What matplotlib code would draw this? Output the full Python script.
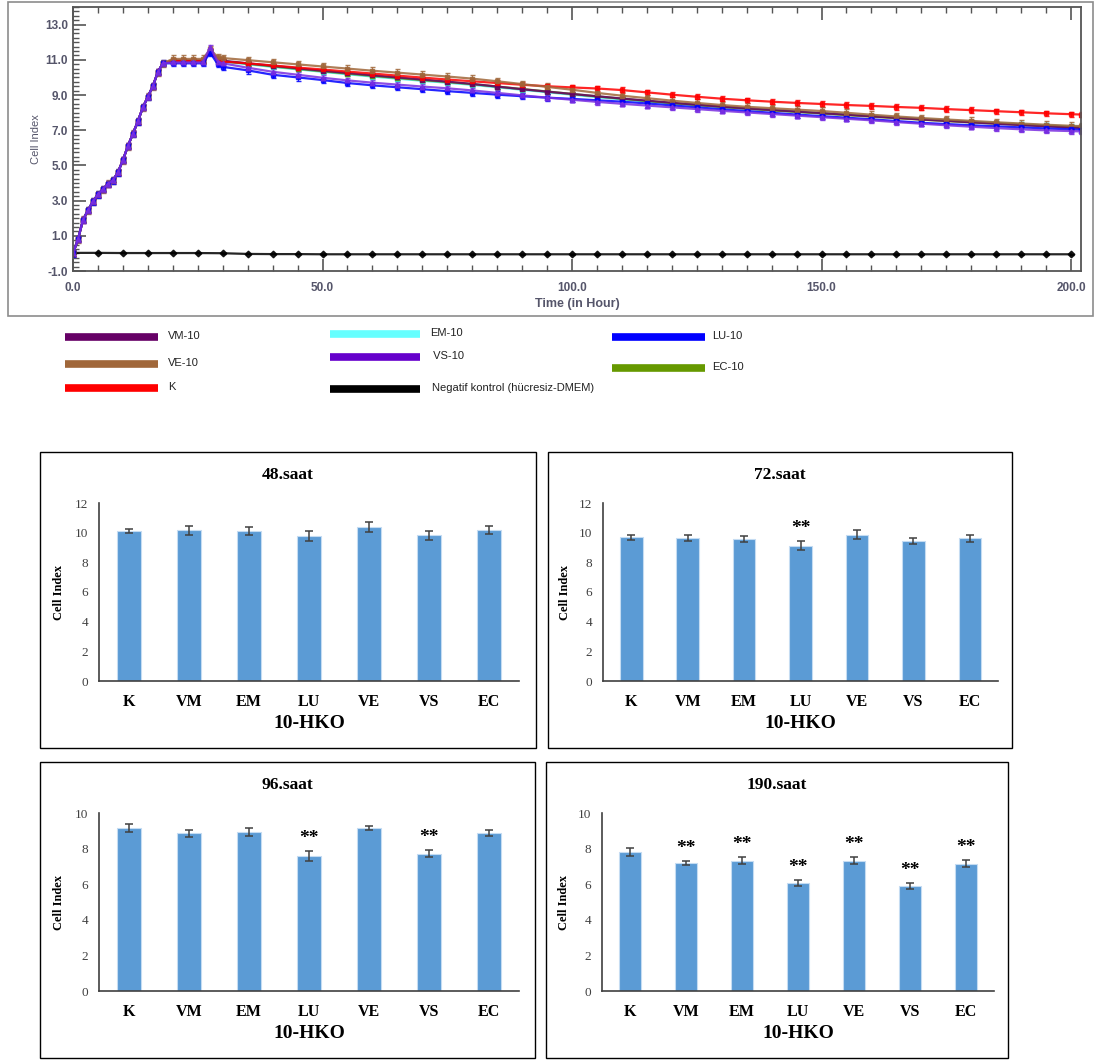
import numpy as np
import matplotlib.pyplot as plt
from matplotlib.lines import Line2D
from matplotlib.patches import Rectangle
from matplotlib.ticker import MultipleLocator, FormatStrFormatter

W, H = 1101, 1060

# ---- real-time cell index (top panel) ----
growth_hours = [0, 1, 2, 3, 4, 5, 6, 7, 8, 9, 10, 11, 12, 13, 14, 15, 16, 17, 18]
growth_ci = [0.0, 0.8, 1.9, 2.45, 2.95, 3.35, 3.65, 3.95, 4.15, 4.6, 5.3, 6.1,
             6.8, 7.5, 8.3, 8.9, 9.5, 10.3, 10.8]
late_hours = [20, 22, 24, 26, 27.5, 29] + list(range(30, 201, 5)) + [202]

ci_vm = [10.95, 10.95, 10.95, 10.95, 11.5, 11.0,
         10.95, 10.80, 10.66, 10.52, 10.38, 10.25, 10.12, 10.00, 9.88, 9.76,
         9.63, 9.48, 9.33, 9.19, 9.06, 8.93, 8.80, 8.68, 8.56, 8.45,
         8.34, 8.24, 8.15, 8.06, 7.97, 7.88, 7.79, 7.70, 7.61, 7.53,
         7.45, 7.37, 7.29, 7.22, 7.15, 7.13]
ci_ve = [11.05, 11.05, 11.05, 11.05, 11.6, 11.15,
         11.10, 10.98, 10.86, 10.74, 10.62, 10.50, 10.38, 10.27, 10.16, 10.05,
         9.93, 9.78, 9.62, 9.46, 9.30, 9.12, 8.96, 8.82, 8.68, 8.55,
         8.43, 8.33, 8.25, 8.17, 8.09, 7.99, 7.88, 7.78, 7.69, 7.61,
         7.53, 7.45, 7.38, 7.31, 7.25, 7.23]
ci_k = [10.95, 10.95, 10.95, 10.95, 11.5, 11.0,
        10.90, 10.80, 10.68, 10.56, 10.45, 10.33, 10.22, 10.10, 9.99, 9.88,
        9.78, 9.68, 9.58, 9.50, 9.43, 9.37, 9.28, 9.15, 9.02, 8.90,
        8.79, 8.70, 8.62, 8.55, 8.49, 8.43, 8.38, 8.32, 8.27, 8.20,
        8.14, 8.08, 8.02, 7.96, 7.91, 7.89]
ci_em = [10.9, 10.9, 10.9, 10.9, 11.5, 10.95,
         10.90, 10.75, 10.60, 10.46, 10.32, 10.18, 10.05, 9.93, 9.81, 9.70,
         9.58, 9.44, 9.30, 9.16, 9.02, 8.88, 8.75, 8.63, 8.52, 8.42,
         8.32, 8.23, 8.14, 8.05, 7.96, 7.88, 7.80, 7.72, 7.64, 7.56,
         7.48, 7.41, 7.34, 7.27, 7.21, 7.19]
ci_vs = [10.85, 10.85, 10.85, 10.85, 11.7, 10.9,
         10.80, 10.55, 10.32, 10.15, 9.98, 9.83, 9.70, 9.59, 9.48, 9.38,
         9.26, 9.12, 8.98, 8.85, 8.73, 8.61, 8.50, 8.40, 8.30, 8.20,
         8.10, 8.01, 7.92, 7.83, 7.74, 7.65, 7.56, 7.46, 7.37, 7.28,
         7.20, 7.12, 7.05, 6.99, 6.95, 6.93]
ci_lu = [10.8, 10.8, 10.8, 10.8, 11.4, 10.75,
         10.60, 10.40, 10.15, 10.00, 9.85, 9.68, 9.55, 9.44, 9.33, 9.22,
         9.12, 9.02, 8.93, 8.85, 8.78, 8.70, 8.62, 8.52, 8.41, 8.30,
         8.19, 8.09, 7.99, 7.89, 7.80, 7.71, 7.62, 7.52, 7.42, 7.35,
         7.28, 7.22, 7.16, 7.10, 7.05, 7.03]
ci_ec = [10.9, 10.9, 10.9, 10.9, 11.5, 10.95,
         10.92, 10.78, 10.63, 10.49, 10.35, 10.22, 10.09, 9.97, 9.85, 9.74,
         9.62, 9.48, 9.34, 9.20, 9.06, 8.92, 8.79, 8.66, 8.54, 8.43,
         8.32, 8.22, 8.13, 8.04, 7.95, 7.86, 7.77, 7.68, 7.60, 7.52,
         7.44, 7.37, 7.30, 7.23, 7.17, 7.15]
neg_hours = list(range(0, 201, 5))
ci_neg = [0.03, 0.03, 0.02, 0.02, 0.02, 0.02, 0.01, -0.03, -0.04, -0.04,
          -0.05, -0.05, -0.05, -0.05, -0.05, -0.05, -0.05, -0.05, -0.05, -0.05,
          -0.05, -0.05, -0.05, -0.05, -0.05, -0.05, -0.05, -0.05, -0.05, -0.05,
          -0.05, -0.05, -0.05, -0.05, -0.05, -0.05, -0.05, -0.05, -0.05, -0.05,
          -0.05]

# ---- end-point bar charts ----
groups = ['K', 'VM', 'EM', 'LU', 'VE', 'VS', 'EC']
ci_48h = [10.11, 10.16, 10.11, 9.75, 10.40, 9.82, 10.18]
sd_48h = [0.15, 0.30, 0.27, 0.34, 0.34, 0.29, 0.26]
sig_48h = [0, 0, 0, 0, 0, 0, 0]
ci_72h = [9.69, 9.64, 9.60, 9.12, 9.87, 9.44, 9.62]
sd_72h = [0.16, 0.21, 0.20, 0.29, 0.28, 0.20, 0.25]
sig_72h = [0, 0, 0, 1, 0, 0, 0]
ci_96h = [9.16, 8.86, 8.91, 7.60, 9.16, 7.72, 8.86]
sd_96h = [0.22, 0.19, 0.22, 0.28, 0.11, 0.20, 0.18]
sig_96h = [0, 0, 0, 1, 0, 1, 0]
ci_190h = [7.79, 7.19, 7.32, 6.05, 7.32, 5.90, 7.15]
sd_190h = [0.22, 0.13, 0.20, 0.17, 0.20, 0.16, 0.19]
sig_190h = [0, 1, 1, 1, 1, 1, 1]


def px_box(x0, y0, x1, y1):
    return [x0 / W, 1 - y1 / H, (x1 - x0) / W, (y1 - y0) / H]


def frame(fig, x0, y0, x1, y1, color, lw):
    fig.add_artist(Rectangle((x0 / W, 1 - y1 / H), (x1 - x0) / W, (y1 - y0) / H,
                             transform=fig.transFigure, fill=False,
                             edgecolor=color, lw=lw))


fig = plt.figure(figsize=(W / 100, H / 100), dpi=100)
fig.patch.set_facecolor('white')

# ================= top panel =================
frame(fig, 8, 2, 1093, 316, '#8c8c8c', 1.2)
ax = fig.add_axes(px_box(73, 7, 1081, 271))

series = [
    ('NEG', neg_hours, ci_neg, '#000000', 'D', 0.02),
    ('EM-10', None, ci_em, '#33e6e6', 's', 0.12),
    ('EC-10', None, ci_ec, '#669900', 's', 0.12),
    ('VM-10', None, ci_vm, '#660066', 's', 0.12),
    ('K', None, ci_k, '#ff0000', 's', 0.15),
    ('VE-10', None, ci_ve, '#a0673a', 's', 0.2),
    ('LU-10', None, ci_lu, '#0000ff', 's', 0.18),
    ('VS-10', None, ci_vs, '#7a2ee0', '^', 0.15),
]
for name, hrs, vals, col, mk, sd in series:
    if hrs is None:
        x = growth_hours + late_hours
        y = growth_ci + vals
    else:
        x, y = hrs, vals
    ax.errorbar(x, y, yerr=sd, fmt='-' + mk, color=col, ms=3.4, lw=1.6,
                ecolor=col, elinewidth=0.9, capsize=1.8, alpha=0.85)

ax.set_xlim(0, 202)
ax.set_ylim(-1, 14)
ax.xaxis.set_major_locator(MultipleLocator(50))
ax.xaxis.set_minor_locator(MultipleLocator(5))
ax.yaxis.set_minor_locator(MultipleLocator(0.25))
ax.set_yticks(np.arange(-1, 14, 2))
ax.xaxis.set_major_formatter(FormatStrFormatter('%.1f'))
ax.yaxis.set_major_formatter(FormatStrFormatter('%.1f'))
ax.tick_params(axis='both', which='major', direction='in', length=9, width=1.2,
               color='#555555', labelsize=8.5, labelcolor='#55556a', top=True, right=False)
ax.tick_params(axis='both', which='minor', direction='in', length=4, width=1,
               color='#555555', top=True, right=False)
ax.tick_params(axis='x', which='major', pad=8)
for lab in ax.get_xticklabels() + ax.get_yticklabels():
    lab.set_fontweight('bold')
    lab.set_family('Liberation Sans')
for sp in ax.spines.values():
    sp.set_color('#555555')
    sp.set_linewidth(1.3)
ax.set_xlabel('Time (in Hour)', fontsize=9, fontweight='bold', color='#55556a',
              family='Liberation Sans', labelpad=3)
ax.set_ylabel('Cell Index', fontsize=8, color='#55556a', family='Liberation Sans',
              labelpad=3)

# legend below the top panel
legend_items = [
    ('VM-10', '#660066', 65, 158, 337, 168),
    ('VE-10', '#a0673a', 65, 158, 364, 168),
    ('K', '#ff0000', 65, 158, 388, 168),
    ('EM-10', '#66ffff', 330, 420, 334, 430),
    (' VS-10', '#6600cc', 330, 420, 357, 430),
    ('Negatif kontrol (hücresiz-DMEM)', '#000000', 330, 420, 389, 432),
    ('LU-10', '#0000ff', 612, 705, 337, 712),
    ('EC-10', '#669900', 612, 705, 368, 712),
]
for lab, col, x0, x1, y, tx in legend_items:
    fig.add_artist(Line2D([x0 / W, x1 / W], [1 - y / H, 1 - y / H],
                          transform=fig.transFigure, color=col, lw=5.5,
                          solid_capstyle='butt'))
    fig.text(tx / W, 1 - (y - 1) / H, lab, fontsize=8, family='Liberation Sans',
             va='center', ha='left', color='#222222')

# ================= bar panels =================
panels = [
    ('48.saat', ci_48h, sd_48h, sig_48h, 12, (40, 452, 536, 748), (99, 503, 519, 681)),
    ('72.saat', ci_72h, sd_72h, sig_72h, 12, (548, 452, 1012, 748), (603, 503, 998, 681)),
    ('96.saat', ci_96h, sd_96h, sig_96h, 10, (40, 762, 535, 1058), (99, 813, 519, 991)),
    ('190.saat', ci_190h, sd_190h, sig_190h, 10, (546, 762, 1008, 1058), (602, 813, 994, 991)),
]
serif = 'Liberation Serif'
for title, vals, sds, sig, ymax, fr, axp in panels:
    frame(fig, *fr, '#000000', 1.0)
    fig.text((fr[0] + fr[2]) / 2 / W, 1 - (fr[1] + 23) / H, title, ha='center',
             va='center', fontsize=12.5, fontweight='bold', family=serif)
    bx = fig.add_axes(px_box(*axp))
    xpos = np.arange(len(groups))
    bx.bar(xpos, vals, width=0.4, color='#5b9bd5', edgecolor='#c5dcf2', lw=0.8,
           zorder=2)
    bx.errorbar(xpos, vals, yerr=sds, fmt='none', ecolor='#404040',
                elinewidth=1.1, capsize=3, capthick=1.1, zorder=3)
    for i, s in enumerate(sig):
        if s:
            bx.annotate('**', (xpos[i], vals[i] + sds[i]), xytext=(0, 9),
                        textcoords='offset points', ha='center', va='center',
                        fontsize=14, fontweight='bold', family=serif)
    bx.set_xlim(-0.5, len(groups) - 0.5)
    bx.set_ylim(0, ymax)
    bx.set_yticks(np.arange(0, ymax + 1, 2))
    bx.set_xticks(xpos)
    bx.set_xticklabels(groups, fontsize=11.5, fontweight='bold', family=serif)
    for lab in bx.get_yticklabels():
        lab.set_family(serif)
        lab.set_fontsize(9.5)
        lab.set_color('#404040')
    bx.tick_params(axis='x', length=0, pad=9)
    bx.tick_params(axis='y', length=0, pad=8)
    for side in ('top', 'right'):
        bx.spines[side].set_visible(False)
    for side in ('left', 'bottom'):
        bx.spines[side].set_color('#404040')
        bx.spines[side].set_linewidth(1.2)
    bx.set_xlabel('10-HKO', fontsize=14, fontweight='bold', family=serif)
    bx.xaxis.set_label_coords(0.5, -0.19)
    bx.set_ylabel('Cell Index', fontsize=9, fontweight='bold', family=serif)
    bx.yaxis.set_label_coords(-0.082, 0.5)

fig.savefig('out.png', dpi=100, facecolor='white')
